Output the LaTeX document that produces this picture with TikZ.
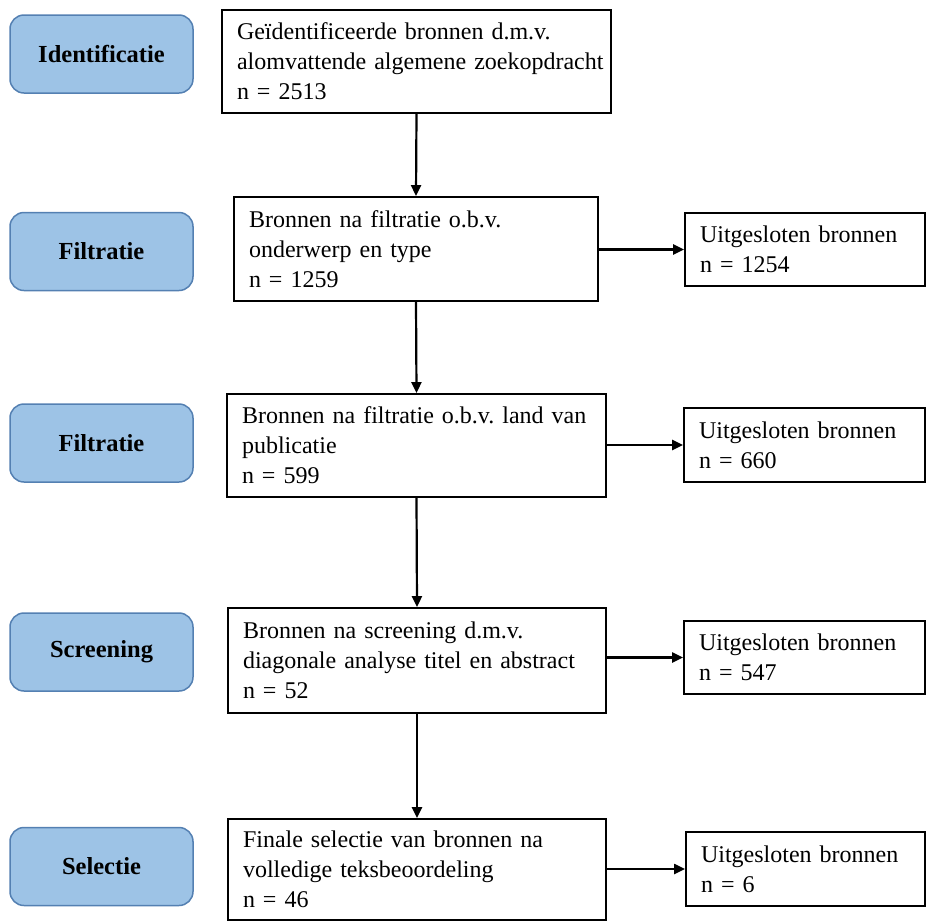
\documentclass[tikz,border=0pt]{standalone}
\usepackage{fontspec}
\setmainfont{Liberation Serif}
\usetikzlibrary{arrows.meta}
\definecolor{stagefill}{RGB}{157,195,230}
\definecolor{stageedge}{RGB}{84,128,178}
\frenchspacing
\begin{document}
\begin{tikzpicture}[x=1pt,y=-1pt,
  stage/.style={draw=stageedge, fill=stagefill, rounded corners=14pt, line width=1.5pt,
    minimum width=183pt, minimum height=78pt, inner sep=0pt,
    font=\fontsize{24.5}{28}\selectfont\bfseries},
  mainbox/.style={draw, line width=1.8pt, align=left, inner xsep=15pt, inner ysep=0pt,
    font=\frenchspacing\fontsize{24}{30}\selectfont},
  flow/.style={-{Triangle[length=11pt,width=10pt]}, line width=2.2pt}
]
\useasboundingbox (0,0) rectangle (926,922);

% stage labels
\node[stage] (st1) at (101.5,54) {Identificatie};
\node[stage] (st2) at (101.5,251.5) {Filtratie};
\node[stage] (st3) at (101.5,443) {Filtratie};
\node[stage] (st4) at (101.5,652) {Screening};
\node[stage] (st5) at (101.5,866.5) {Selectie};

% main flow boxes
\node[mainbox, text width=359pt, minimum height=103pt] (b1) at (416.5,61.5)
  {Geïdentificeerde bronnen d.m.v.\\\mbox{alomvattende algemene zoekopdracht}\\n = 2513};
\node[mainbox, text width=334pt, minimum height=104pt] (b2) at (416,249)
  {Bronnen na filtratie o.b.v.\\onderwerp en type\\n = 1259};
\node[mainbox, text width=349pt, minimum height=103pt] (b3) at (416.5,445.5)
  {Bronnen na filtratie o.b.v. land van\\publicatie\\n = 599};
\node[mainbox, text width=348pt, minimum height=105pt] (b4) at (417,660.5)
  {Bronnen na screening d.m.v.\\diagonale analyse titel en abstract\\n = 52};
\node[mainbox, text width=348pt, minimum height=101pt] (b5) at (417,869.5)
  {Finale selectie van bronnen na\\volledige teksbeoordeling\\n = 46};

% excluded boxes
\node[mainbox, text width=210pt, minimum height=73pt] (s1) at (805,249.5)
  {Uitgesloten bronnen\\n = 1254};
\node[mainbox, text width=211pt, minimum height=74pt] (s2) at (804.5,445)
  {Uitgesloten bronnen\\n = 660};
\node[mainbox, text width=211pt, minimum height=73pt] (s3) at (804.5,657.5)
  {Uitgesloten bronnen\\n = 547};
\node[mainbox, text width=209pt, minimum height=74pt] (s4) at (805.5,869)
  {Uitgesloten bronnen\\n = 6};

% vertical arrows
\draw[flow] (b1.south) -- (b2.north);
\draw[flow] (b2.south) -- (b3.north);
\draw[flow] (b3.south) -- (b4.north);
\draw[flow] (b4.south) -- (b5.north);

% horizontal arrows
\draw[flow] (b2.east |- s1.west) -- (s1.west);
\draw[flow] (b3.east |- s2.west) -- (s2.west);
\draw[flow] (b4.east |- s3.west) -- (s3.west);
\draw[flow] (b5.east |- s4.west) -- (s4.west);
\end{tikzpicture}
\end{document}
